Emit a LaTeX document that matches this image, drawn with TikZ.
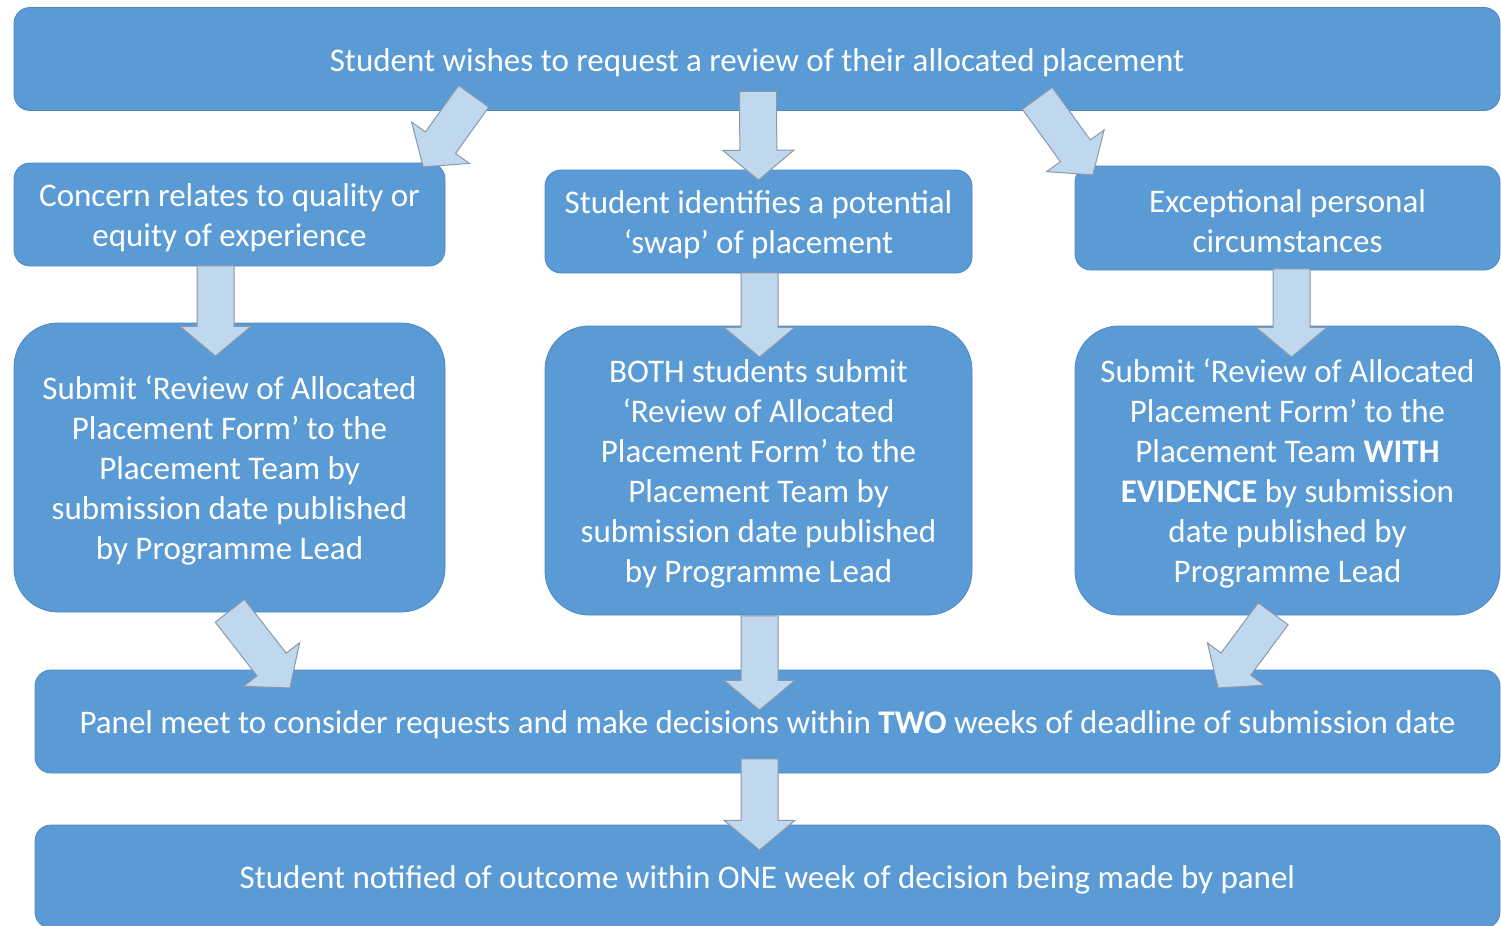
\documentclass[tikz,border=0pt]{standalone}
\usepackage{fontspec}
\setmainfont{Carlito}
\usepackage{tikz}
\usetikzlibrary{positioning, shapes.arrows, calc}
\definecolor{boxFill}{RGB}{91, 155, 213}
\definecolor{boxEdge}{RGB}{76, 136, 196}
\definecolor{arrowFill}{RGB}{192, 216, 238}
\definecolor{arrowLine}{RGB}{140, 152, 168}
\newcommand{\upstrut}{\rule{0pt}{15pt}}
\tikzset{
    step_box/.style={
        rectangle,
        rounded corners=8pt,
        fill=boxFill,
        draw=boxEdge,
        line width=0.4pt,
        text=white,
        align=center,
        inner sep=0pt,
        font=\fontsize{16.5}{20}\selectfont
    },
    wide_box/.style={
        step_box,
        minimum height=51.5pt
    },
    big_box/.style={
        step_box,
        rounded corners=22pt,
        minimum height=144.5pt
    },
    flow_arrow/.style={
        single arrow,
        fill=arrowFill,
        draw=arrowLine,
        line width=0.5pt,
        inner sep=9pt,
        minimum width=0pt,
        single arrow head extend=8.5pt,
        single arrow tip angle=100
    }
}
% block arrow from one point to another
\newcommand{\flowarrow}[2]{%
    \path let \p1=#1, \p2=#2,
        \n1={atan2(\y2-\y1,\x2-\x1)},
        \n2={veclen(\x2-\x1,\y2-\y1)} in
        node[flow_arrow, anchor=tail, rotate=\n1, minimum height=\n2] at (\p1) {};
}

\begin{document}
\begin{tikzpicture}[x=0.5pt, y=-0.5pt]
    \useasboundingbox (0,0) rectangle (1501,926);
    \fill[white] (0,0) rectangle (1501,926);

    \node[wide_box, minimum width=743pt] (request) at (757,59)
        {\upstrut Student wishes to request a review of their allocated placement};

    \node[wide_box, minimum width=215.5pt] (quality) at (229.5,214.5)
        {\upstrut Concern relates to quality or\\equity of experience};
    \node[wide_box, minimum width=213.5pt] (swap) at (758.5,221.5)
        {\upstrut Student identifies a potential\\‘swap’ of placement};
    \node[wide_box, minimum width=212.5pt, minimum height=52pt] (personal) at (1287.5,218)
        {\upstrut Exceptional personal\\circumstances};

    \node[big_box, minimum width=215.5pt] (form_a) at (229.5,467.5)
        {\upstrut Submit ‘Review of Allocated\\Placement Form’ to the\\Placement Team by\\submission date published\\by Programme Lead};
    \node[big_box, minimum width=213.5pt] (form_b) at (758.5,470.5)
        {\upstrut BOTH students submit\\‘Review of Allocated\\Placement Form’ to the\\Placement Team by\\submission date published\\by Programme Lead};
    \node[big_box, minimum width=212.5pt] (form_c) at (1287.5,470.5)
        {\upstrut Submit ‘Review of Allocated\\Placement Form’ to the\\Placement Team \textbf{WITH}\\\textbf{EVIDENCE} by submission\\date published by\\Programme Lead};

    \node[wide_box, minimum width=732.5pt] (panel) at (767.5,721.5)
        {\upstrut Panel meet to consider requests and make decisions within \textbf{TWO} weeks of deadline of submission date};
    \node[wide_box, minimum width=732.5pt] (outcome) at (767.5,876.5)
        {\upstrut Student notified of outcome within ONE week of decision being made by panel};

    \flowarrow{($(request.south)+(-283,-15)$)}{($(quality.north east)+(-22,4)$)}
    \flowarrow{($(request.south)+(1,-20)$)}{($(swap.north)+(0,10)$)}
    \flowarrow{($(request.south)+(280,-13)$)}{($(personal.north west)+(18,9)$)}
    \flowarrow{($(quality.south)+(-14,-1)$)}{($(form_a.north)+(-14,33)$)}
    \flowarrow{($(swap.south)+(1,-1)$)}{($(form_b.north)+(1,31)$)}
    \flowarrow{($(personal.south)+(4,-2)$)}{($(form_c.north)+(4,31)$)}
    \flowarrow{($(form_a.south)+(0,-2)$)}{($(panel.north west)+(255,18)$)}
    \flowarrow{($(form_b.south)+(1,0)$)}{($(panel.north)+(-8,40)$)}
    \flowarrow{($(form_c.south)+(-14,-2)$)}{($(panel.north east)+(-282,18)$)}
    \flowarrow{($(panel.south)+(-8,-15)$)}{($(outcome.north)+(-8,25)$)}
\end{tikzpicture}
\end{document}
